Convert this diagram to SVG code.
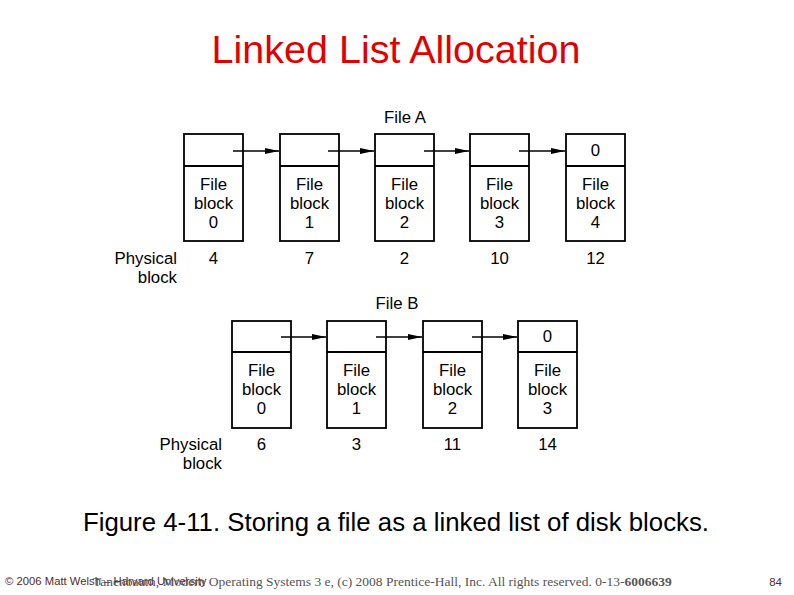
<svg xmlns="http://www.w3.org/2000/svg" width="794" height="595" viewBox="0 0 794 595">
<style>
.box{fill:#fff;stroke:#000;stroke-width:1.8}
.t{font-family:"Liberation Sans",Arial,sans-serif;font-size:16.8px;fill:#000;text-anchor:middle}
.r{text-anchor:end}
.arr{stroke:#000;stroke-width:1.4;fill:none;marker-end:url(#ah)}
</style>
<defs>
<marker id="ah" markerWidth="14" markerHeight="8" refX="14" refY="4" orient="auto" markerUnits="userSpaceOnUse">
<path d="M0,1 L14,4 L0,7 Z" fill="#000"/>
</marker>
</defs>
<rect width="794" height="595" fill="#fff"/>
<text x="396" y="63" font-family="Liberation Sans,Arial,sans-serif" font-size="39.5" fill="#e00000" text-anchor="middle">Linked List Allocation</text>

<text class="t" x="405" y="123">File A</text>
<g id="a0"><rect class="box" x="184" y="134" width="59" height="107"/><line class="box" x1="184" y1="166" x2="243" y2="166"/><text class="t" x="213.5" y="190">File</text><text class="t" x="213.5" y="209">block</text><text class="t" x="213.5" y="228">0</text><text class="t" x="213.5" y="264">4</text></g>
<g id="a1"><rect class="box" x="280" y="134" width="59" height="107"/><line class="box" x1="280" y1="166" x2="339" y2="166"/><text class="t" x="309.5" y="190">File</text><text class="t" x="309.5" y="209">block</text><text class="t" x="309.5" y="228">1</text><text class="t" x="309.5" y="264">7</text></g>
<g id="a2"><rect class="box" x="375" y="134" width="59" height="107"/><line class="box" x1="375" y1="166" x2="434" y2="166"/><text class="t" x="404.5" y="190">File</text><text class="t" x="404.5" y="209">block</text><text class="t" x="404.5" y="228">2</text><text class="t" x="404.5" y="264">2</text></g>
<g id="a3"><rect class="box" x="470" y="134" width="59" height="107"/><line class="box" x1="470" y1="166" x2="529" y2="166"/><text class="t" x="499.5" y="190">File</text><text class="t" x="499.5" y="209">block</text><text class="t" x="499.5" y="228">3</text><text class="t" x="499.5" y="264">10</text></g>
<g id="a4"><rect class="box" x="566" y="134" width="59" height="107"/><line class="box" x1="566" y1="166" x2="625" y2="166"/><text class="t" x="595.5" y="156">0</text><text class="t" x="595.5" y="190">File</text><text class="t" x="595.5" y="209">block</text><text class="t" x="595.5" y="228">4</text><text class="t" x="595.5" y="264">12</text></g>
<text class="t r" x="177" y="264">Physical</text>
<text class="t r" x="177" y="283">block</text>

<text class="t" x="397" y="309">File B</text>
<g id="b0"><rect class="box" x="232" y="321" width="59" height="107"/><line class="box" x1="232" y1="352" x2="291" y2="352"/><text class="t" x="261.5" y="376">File</text><text class="t" x="261.5" y="395">block</text><text class="t" x="261.5" y="414">0</text><text class="t" x="261.5" y="450">6</text></g>
<g id="b1"><rect class="box" x="327" y="321" width="59" height="107"/><line class="box" x1="327" y1="352" x2="386" y2="352"/><text class="t" x="356.5" y="376">File</text><text class="t" x="356.5" y="395">block</text><text class="t" x="356.5" y="414">1</text><text class="t" x="356.5" y="450">3</text></g>
<g id="b2"><rect class="box" x="423" y="321" width="59" height="107"/><line class="box" x1="423" y1="352" x2="482" y2="352"/><text class="t" x="452.5" y="376">File</text><text class="t" x="452.5" y="395">block</text><text class="t" x="452.5" y="414">2</text><text class="t" x="452.5" y="450">11</text></g>
<g id="b3"><rect class="box" x="518" y="321" width="59" height="107"/><line class="box" x1="518" y1="352" x2="577" y2="352"/><text class="t" x="547.5" y="342">0</text><text class="t" x="547.5" y="376">File</text><text class="t" x="547.5" y="395">block</text><text class="t" x="547.5" y="414">3</text><text class="t" x="547.5" y="450">14</text></g>
<text class="t r" x="222" y="450">Physical</text>
<text class="t r" x="222" y="469">block</text>

<g id="connectors">
<line class="arr" x1="233" y1="151" x2="279" y2="151"/>
<line class="arr" x1="328" y1="151" x2="374" y2="151"/>
<line class="arr" x1="424" y1="151" x2="469" y2="151"/>
<line class="arr" x1="519" y1="151" x2="565" y2="151"/>
<line class="arr" x1="281" y1="337" x2="326" y2="337"/>
<line class="arr" x1="376" y1="337" x2="422" y2="337"/>
<line class="arr" x1="472" y1="337" x2="517" y2="337"/>
</g>

<text x="396" y="531" font-family="Liberation Sans,Arial,sans-serif" font-size="25.8" fill="#000" text-anchor="middle">Figure 4-11. Storing a file as a linked list of disk blocks.</text>

<text x="5" y="585" font-family="Liberation Sans,Arial,sans-serif" font-size="11.3" fill="#5a2a2a">© 2006 Matt Welsh – Harvard University</text>
<text x="93" y="586" font-family="Liberation Serif,Times New Roman,serif" font-size="13.5" fill="#555">Tanenbaum, Modern Operating Systems 3 e, (c) 2008 Prentice-Hall, Inc. All rights reserved. 0-13-<tspan font-weight="bold">6006639</tspan></text>
<text x="782" y="586" font-family="Liberation Sans,Arial,sans-serif" font-size="11.5" fill="#5a2a2a" text-anchor="end">84</text>
</svg>
